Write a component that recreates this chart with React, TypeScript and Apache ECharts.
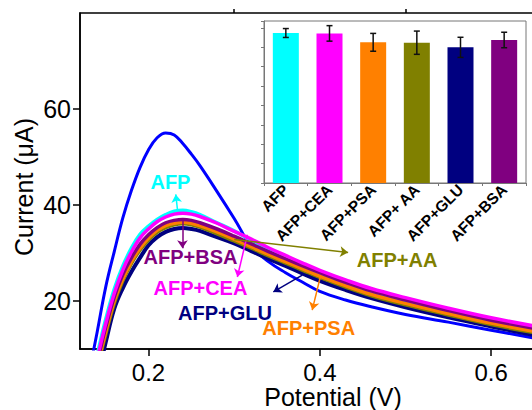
import React, { useEffect, useRef } from "react";
import * as echarts from "echarts";

// ---- Data ----
const potentials = [0.13, 0.14, 0.15, 0.16, 0.17, 0.18, 0.19, 0.20, 0.21, 0.22, 0.23, 0.24, 0.25, 0.26, 0.28, 0.30, 0.32, 0.34, 0.36, 0.38, 0.40, 0.43, 0.46, 0.50, 0.55, 0.60, 0.65];

const bareCurrent = [4.5, 13.5, 22.9, 30.3, 37.3, 43.0, 47.8, 51.5, 54.0, 55.0, 54.6, 52.8, 50.6, 48.2, 42.8, 37.2, 31.4, 28.2, 25.9, 23.9, 22.0, 20.2, 18.8, 17.2, 15.6, 13.9, 12.3];
const afpCurrent = [1.5, 8.8, 16.2, 22.5, 27.3, 31.0, 33.9, 35.6, 37.0, 38.0, 38.7, 38.9, 38.6, 38.0, 36.3, 34.6, 32.6, 30.6, 28.8, 27.2, 25.7, 23.6, 21.8, 19.9, 17.6, 15.7, 13.9];
const ceaCurrent = [1.0, 8.0, 15.3, 21.6, 26.5, 30.2, 33.1, 35.0, 36.5, 37.5, 38.1, 38.3, 38.1, 37.6, 36.2, 34.5, 32.9, 31.1, 29.5, 27.9, 26.4, 24.4, 22.6, 20.7, 18.5, 16.5, 14.8];
const bsaCurrent = [0.5, 7.2, 14.5, 20.8, 25.5, 29.0, 31.8, 33.8, 35.3, 36.3, 36.8, 37.0, 36.8, 36.3, 35.0, 33.5, 31.9, 30.3, 28.8, 27.3, 25.9, 23.9, 22.1, 20.2, 18.0, 16.0, 14.3];
const psaCurrent = [0.0, 6.5, 13.6, 20.0, 24.6, 28.2, 31.0, 33.1, 34.7, 35.7, 36.2, 36.4, 36.2, 35.7, 34.4, 32.9, 31.3, 29.7, 28.2, 26.7, 25.2, 23.2, 21.4, 19.5, 17.4, 15.4, 13.7];
const aaCurrent = [-0.5, 6.0, 13.0, 19.5, 24.2, 27.8, 30.6, 32.7, 34.3, 35.3, 35.9, 36.1, 35.9, 35.4, 34.0, 32.5, 31.0, 29.4, 27.9, 26.4, 24.9, 22.9, 21.1, 19.2, 17.1, 15.1, 13.4];
const gluCurrent = [-1.0, 4.0, 11.4, 18.4, 22.7, 26.1, 29.0, 31.6, 33.3, 34.4, 35.0, 35.2, 35.0, 34.6, 33.3, 32.0, 30.4, 28.8, 27.3, 25.7, 24.2, 22.3, 20.6, 18.7, 16.6, 14.7, 12.9];

const xMajorTicks = [0.2, 0.4, 0.6];
const xMinorTicks = [0.3, 0.5];
const yMajorTicks = [20, 40, 60];
const yMinorTicks = [30, 50, 70];

const insetCategories = ["AFP", "AFP+CEA", "AFP+PSA", "AFP+ AA", "AFP+GLU", "AFP+BSA"];
const insetValues = [38.7, 38.6, 36.3, 36.2, 35.0, 36.9];
const insetErrors = [1.15, 2.0, 2.3, 3.0, 2.6, 2.0];

// annotation: label position, arrow start, arrow end (data coordinates)
const annotations = [
  { text: "AFP", color: "#00FFFF", at: [0.2256, 44.8], from: [0.2338, 39.0], to: [0.2318, 42.2] },
  { text: "AFP+BSA", color: "#800080", at: [0.249, 29.2], from: [0.2396, 36.9], to: [0.2396, 31.0] },
  { text: "AFP+CEA", color: "#FF00FF", at: [0.2606, 22.7], from: [0.3154, 33.8], to: [0.3037, 25.0] },
  { text: "AFP+GLU", color: "#000080", at: [0.2892, 17.5], from: [0.3795, 25.4], to: [0.3457, 21.9] },
  { text: "AFP+PSA", color: "#FF8000", at: [0.387, 14.4], from: [0.4005, 25.0], to: [0.3911, 18.1] },
  { text: "AFP+AA", color: "#808000", at: [0.4902, 28.5], from: [0.300, 32.8], to: [0.433, 30.1] },
];

const FONT = '"Liberation Sans", Arial, sans-serif';

const pairs = (ys: number[]) => potentials.map((p, i) => [p, ys[i]]);

export default function App() {
  const ref = useRef<HTMLDivElement>(null);
  useEffect(() => {
    if (!ref.current) return;
    const chart = echarts.init(ref.current, null, { renderer: "svg" });

    const curve = (name: string, ys: number[], color: string, width: number, extra: any = {}) => ({
      name,
      type: "line",
      xAxisIndex: 0,
      yAxisIndex: 0,
      data: pairs(ys),
      smooth: 0.4,
      symbol: "none",
      clip: true,
      lineStyle: { color, width },
      ...extra,
    });

    const option: any = {
      animation: false,
      backgroundColor: "#fff",
      grid: [
        { left: 80, top: 13, right: -2, bottom: 61, show: true, borderColor: "#000", borderWidth: 1.5, backgroundColor: "transparent", containLabel: false, outerBoundsMode: "none" },
        { left: 264, top: 21, right: 6, bottom: 227, show: true, borderColor: "#777", borderWidth: 1, backgroundColor: "#fff", containLabel: false, outerBoundsMode: "none" },
      ],
      xAxis: [
        {
          type: "value", gridIndex: 0, min: 0.12, max: 0.65,
          name: "Potential (V)", nameLocation: "middle", nameGap: 36.5, nameMoveOverlap: false,
          nameTextStyle: { fontSize: 25, lineHeight: 22, color: "#000", fontFamily: FONT, padding: [0, 0, 0, 52] },
          axisLine: { show: true, lineStyle: { color: "#000", width: 1.5 } },
          axisTick: { show: true, inside: false, length: 7, customValues: xMajorTicks, lineStyle: { color: "#000", width: 1.5 } },
          axisLabel: { show: true, customValues: xMajorTicks, margin: 13, fontSize: 24, lineHeight: 20, color: "#000", fontFamily: FONT, formatter: (v: number) => v.toFixed(1) },
          splitLine: { show: false },
        },
        {
          type: "value", gridIndex: 0, min: 0.12, max: 0.65,
          axisLine: { show: false },
          axisTick: { show: true, inside: false, length: 4, customValues: xMinorTicks, lineStyle: { color: "#000", width: 1.5 } },
          axisLabel: { show: false },
          splitLine: { show: false },
        },
        {
          type: "category", gridIndex: 1, data: insetCategories,
          axisLine: { show: true, lineStyle: { color: "#777", width: 1 } },
          axisTick: { show: true, length: 3, lineStyle: { color: "#777" } },
          axisLabel: { rotate: 45, fontSize: 15.5, fontWeight: "bold", color: "#000", fontFamily: FONT, margin: 4, interval: 0 },
          splitLine: { show: false },
        },
      ],
      yAxis: [
        {
          type: "value", gridIndex: 0, min: 10, max: 80,
          name: "Current (\u03BCA)", nameLocation: "middle", nameGap: 44, nameMoveOverlap: false,
          nameTextStyle: { fontSize: 25, color: "#000", fontFamily: FONT, padding: [0, 12, 0, 0] },
          axisLine: { show: true, lineStyle: { color: "#000", width: 1.5 } },
          axisTick: { show: true, inside: false, length: 7, customValues: yMajorTicks, lineStyle: { color: "#000", width: 1.5 } },
          axisLabel: { show: true, customValues: yMajorTicks, margin: 9, fontSize: 25, color: "#000", fontFamily: FONT },
          splitLine: { show: false },
        },
        {
          type: "value", gridIndex: 0, min: 10, max: 80,
          axisLine: { show: false },
          axisTick: { show: true, inside: false, length: 4, customValues: yMinorTicks, lineStyle: { color: "#000", width: 1.5 } },
          axisLabel: { show: false },
          splitLine: { show: false },
        },
        {
          type: "value", gridIndex: 1, min: 0, max: 41.8, interval: 5,
          axisLine: { show: true, lineStyle: { color: "#777", width: 1 } },
          axisTick: { show: true, length: 3, lineStyle: { color: "#777" } },
          axisLabel: { show: false },
          splitLine: { show: false },
        },
      ],
      series: [
        curve("bare", bareCurrent, "#0000FF", 3, {
          markLine: {
            silent: true,
            symbol: ["none", "arrow"],
            symbolSize: 8,
            label: { show: false },
            data: annotations.map((a) => [
              { coord: a.from, lineStyle: { color: a.color, width: 1.5, type: "solid" } },
              { coord: a.to },
            ]),
          },
        }),
        curve("AFP", afpCurrent, "#00FFFF", 3.5),
        curve("AFP+GLU", gluCurrent, "#000080", 4),
        curve("AFP+AA", aaCurrent, "#808000", 3.5),
        curve("AFP+PSA", psaCurrent, "#FF8000", 3.5),
        curve("AFP+BSA", bsaCurrent, "#800080", 3.5),
        curve("AFP+CEA", ceaCurrent, "#FF00FF", 3.5, {
          markPoint: {
            silent: true,
            data: annotations.map((a) => ({
              coord: a.at,
              symbol: "rect",
              symbolSize: 1,
              itemStyle: { color: "rgba(0,0,0,0)" },
              label: { show: true, position: "inside", formatter: a.text, color: a.color, fontSize: 20, fontWeight: "bold", fontFamily: FONT },
            })),
          },
        }),
        {
          type: "bar",
          xAxisIndex: 2,
          yAxisIndex: 2,
          barWidth: 26,
          data: insetValues.map((v, i) => ({
            value: v,
            itemStyle: { color: ["#00FFFF", "#FF00FF", "#FF8000", "#808000", "#000080", "#800080"][i] },
          })),
        },
        {
          type: "custom",
          xAxisIndex: 2,
          yAxisIndex: 2,
          data: insetValues.map((v, i) => [i, v - insetErrors[i], v + insetErrors[i]]),
          renderItem: (params: any, api: any) => {
            const lo = api.coord([api.value(0), api.value(1)]);
            const hi = api.coord([api.value(0), api.value(2)]);
            const w = 3;
            const style = { stroke: "#111", lineWidth: 1.5 };
            return {
              type: "group",
              children: [
                { type: "line", shape: { x1: lo[0], y1: lo[1], x2: hi[0], y2: hi[1] }, style },
                { type: "line", shape: { x1: lo[0] - w, y1: lo[1], x2: lo[0] + w, y2: lo[1] }, style },
                { type: "line", shape: { x1: hi[0] - w, y1: hi[1], x2: hi[0] + w, y2: hi[1] }, style },
              ],
            };
          },
          z: 10,
        },
      ],
    };
    chart.setOption(option);
    return () => chart.dispose();
  }, []);
  return <div ref={ref} style={{ width: 532, height: 410, position: "absolute", left: 0, top: 0 }} />;
}
